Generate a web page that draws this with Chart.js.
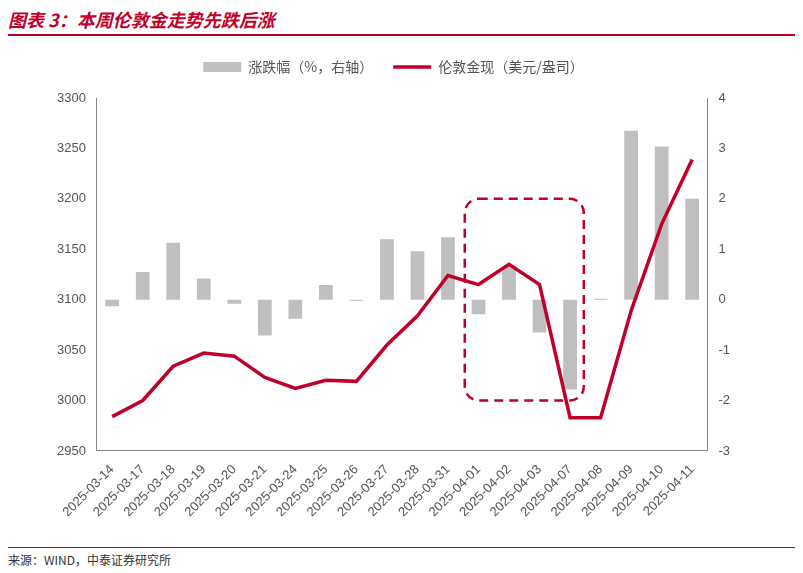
<!DOCTYPE html>
<html>
<head>
<meta charset="utf-8">
<script src="https://cdn.jsdelivr.net/npm/chart.js@4/dist/chart.umd.min.js"></script>
<style>
  body { margin: 0; background: #fff; font-family: "Noto Sans CJK SC", sans-serif; }
  #title { position: absolute; left: 8px; top: 4px; width: 787px; height: 30px; border-bottom: 2px solid #c00028;
           color: #c00028; font-size: 18px; font-style: italic; font-weight: bold; line-height: 30px; }
  #wrap { position: absolute; left: 0; top: 40px; width: 803px; height: 505px; }
  #src { position: absolute; left: 8px; top: 547px; width: 787px; border-top: 1px solid #c00028;
         font-size: 12px; color: #333; padding-top: 3px; }
</style>
</head>
<body>
<div id="title">图表 3：本周伦敦金走势先跌后涨</div>
<div id="wrap"><canvas id="chart" width="803" height="505"></canvas></div>
<div id="src">来源：WIND，中泰证券研究所</div>
<script>
const dates = ['2025-03-14','2025-03-17','2025-03-18','2025-03-19','2025-03-20','2025-03-21','2025-03-24',
  '2025-03-25','2025-03-26','2025-03-27','2025-03-28','2025-03-31','2025-04-01','2025-04-02','2025-04-03',
  '2025-04-07','2025-04-08','2025-04-09','2025-04-10','2025-04-11'];
const changePct = [-0.13, 0.55, 1.13, 0.42, -0.08, -0.71, -0.38, 0.29, -0.02, 1.2, 0.96, 1.24, -0.29,
  0.67, -0.65, -1.78, 0.02, 3.35, 3.04, 2.0];
const goldSpot = [2984, 3000, 3034, 3047, 3044, 3023, 3012, 3020, 3019, 3055, 3084, 3124, 3115, 3135,
  3115, 2983, 2983, 3089, 3175, 3239];
const boxRange = ['2025-04-01', '2025-04-07', 3000, 3200];

const boxPlugin = {
  id: 'box',
  afterDatasetsDraw(chart) {
    const x = chart.scales.x, y = chart.scales.y, ctx = chart.ctx;
    const step = x.getPixelForValue(1) - x.getPixelForValue(0);
    const x1 = x.getPixelForValue(dates.indexOf(boxRange[0])) - step * 0.45;
    const x2 = x.getPixelForValue(dates.indexOf(boxRange[1])) + step * 0.45;
    const y1 = y.getPixelForValue(boxRange[3]), y2 = y.getPixelForValue(boxRange[2]);
    ctx.save();
    ctx.strokeStyle = '#c00028'; ctx.lineWidth = 2.5; ctx.setLineDash([9, 6]);
    ctx.beginPath(); ctx.roundRect(x1, y1, x2 - x1, y2 - y1, 14); ctx.stroke();
    ctx.restore();
  }
};

new Chart(document.getElementById('chart'), {
  data: {
    labels: dates,
    datasets: [
      { type: 'line', label: '伦敦金现（美元/盎司）', data: goldSpot, yAxisID: 'y', pointStyle: 'line',
        borderColor: '#c00028', backgroundColor: '#c00028', borderWidth: 3.5, pointRadius: 0, tension: 0, order: 0 },
      { type: 'bar', label: '涨跌幅（%，右轴）', data: changePct, yAxisID: 'y1', pointStyle: 'rect',
        backgroundColor: '#bfbfbf', barPercentage: 0.5, categoryPercentage: 0.9, order: 1 }
    ]
  },
  options: {
    responsive: false, animation: false,
    layout: { padding: { left: 54, right: 70, top: 0, bottom: 22 } },
    plugins: {
      legend: { reverse: true, labels: { usePointStyle: true, pointStyleWidth: 38, padding: 20,
        font: { size: 14, family: 'Noto Sans CJK SC' }, color: '#555', boxHeight: 10 } },
      tooltip: { enabled: false }
    },
    scales: {
      x: { grid: { display: false }, border: { color: '#888' },
           ticks: { maxRotation: 45, minRotation: 45, autoSkip: false, font: { size: 13 }, color: '#555' } },
      y: { position: 'left', min: 2950, max: 3300, grid: { display: false }, border: { color: '#888' },
           afterFit(s) { s.paddingTop = 0; },
           ticks: { stepSize: 50, font: { size: 13 }, color: '#555', callback: v => String(v) } },
      y1: { position: 'right', min: -3, max: 4, grid: { display: false }, border: { color: '#888' },
            ticks: { stepSize: 1, font: { size: 13 }, color: '#555', callback: v => String(v) } }
    }
  },
  plugins: [boxPlugin, { id: 'legendGap', beforeInit(chart) {
    const fit = chart.legend.fit;
    chart.legend.fit = function () { fit.bind(chart.legend)(); this.height += 14; };
  } }]
});
</script>
</body>
</html>
